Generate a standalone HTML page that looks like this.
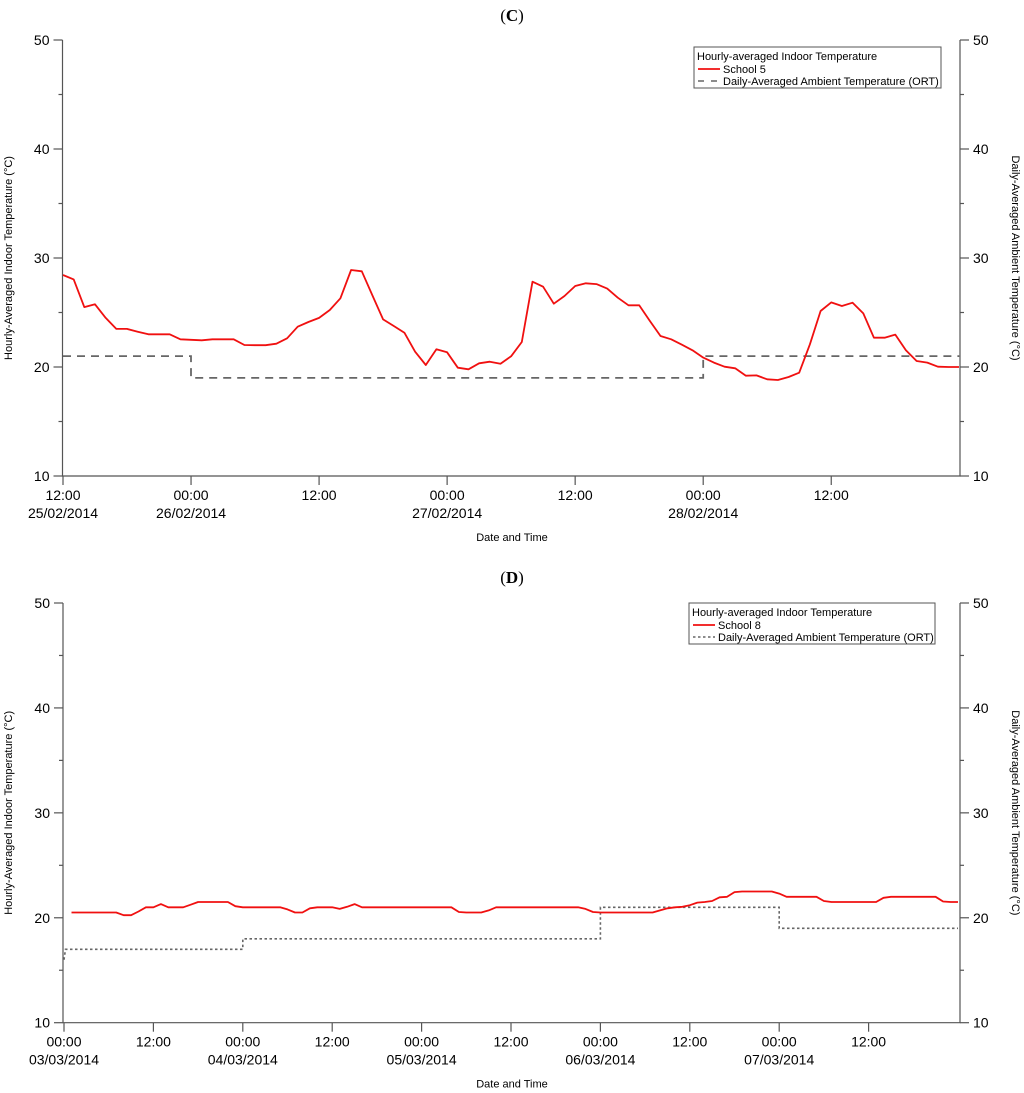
<!DOCTYPE html>
<html><head><meta charset="utf-8">
<style>
html,body{margin:0;padding:0;background:#fff;}
svg{display:block;font-family:"Liberation Sans",sans-serif;}
</style></head>
<body>
<svg id="fig" width="1024" height="1093" viewBox="0 0 1024 1093" xmlns="http://www.w3.org/2000/svg"></svg>
<script>
// ---- Chart C data (hourly from 12:00 25/02/2014) ----
const cIndoor = [28.44,28.04,25.5,25.75,24.5,23.5,23.5,23.24,23.0,23.0,23.0,22.54,22.5,22.45,22.54,22.54,22.54,22.02,22.0,22.0,22.14,22.63,23.7,24.13,24.5,25.23,26.3,28.9,28.78,26.57,24.37,23.76,23.15,21.4,20.18,21.62,21.35,19.94,19.79,20.34,20.49,20.3,20.98,
22.29,27.83,27.37,25.81,26.51,27.43,27.68,27.61,27.19,26.36,25.66,25.66,24.22,22.84,22.54,22.05,21.53,20.86,20.4,20.03,19.88,19.2,19.23,18.87,18.81,19.08,19.48,22.08,25.14,25.93,25.6,25.9,24.92,22.69,22.69,22.97,21.53,20.55,20.4,20.03,20.0,20.0,20.0];
const cAmbHours = [0,12,12,60,60,84];
const cAmbVals  = [21,21,19,19,21,21];
const cTickHours = [0,12,24,36,48,60,72];
const cTickTimes = ["12:00","00:00","12:00","00:00","12:00","00:00","12:00"];
const cTickDates = ["25/02/2014","26/02/2014","","27/02/2014","","28/02/2014",""];
// ---- Chart D data (hourly from 01:00 03/03/2014) ----
const dIndoor = [20.5,20.5,20.5,20.5,20.5,20.5,20.5,20.25,20.25,20.6,21.0,21.0,21.3,21.0,21.0,21.0,21.25,21.5,21.5,21.5,21.5,21.5,21.1,21.0,21.0,21.0,21.0,21.0,21.0,20.8,20.5,20.5,20.9,21.0,21.0,21.0,20.85,21.05,21.3,21.0,
21.0,21.0,21.0,21.0,21.0,21.0,21.0,21.0,21.0,21.0,21.0,21.0,20.55,20.5,20.5,20.5,20.7,21.0,21.0,21.0,21.0,21.0,21.0,21.0,21.0,21.0,21.0,21.0,21.0,20.85,20.55,20.5,20.5,20.5,20.5,20.5,20.5,20.5,20.5,20.7,
20.9,21.0,21.05,21.2,21.45,21.5,21.6,21.95,22.0,22.45,22.5,22.5,22.5,22.5,22.5,22.3,22.0,22.0,22.0,22.0,22.0,21.6,21.5,21.5,21.5,21.5,21.5,21.5,21.5,21.9,22.0,22.0,22.0,22.0,22.0,22.0,22.0,21.55,21.5,21.5];
const dAmbHours = [0,0.2,24,24,72,72,96,96,120];
const dAmbVals  = [16,17,17,18,18,21,21,19,19];
const dTickHours = [0,12,24,36,48,60,72,84,96,108];
const dTickTimes = ["00:00","12:00","00:00","12:00","00:00","12:00","00:00","12:00","00:00","12:00"];
const dTickDates = ["03/03/2014","","04/03/2014","","05/03/2014","","06/03/2014","","07/03/2014",""];
const yTicks = [10,20,30,40,50];

const NS="http://www.w3.org/2000/svg";
const svg=document.getElementById('fig');
function mk(tag,attrs,parent,text){const e=document.createElementNS(NS,tag);for(const k in attrs)e.setAttribute(k,attrs[k]);if(text!==undefined)e.textContent=text;(parent||svg).appendChild(e);return e;}

function drawChart(p){
  const g=mk('g',{});
  
  
  const x=h=>p.x0+(h-p.h0)*p.pxh;
  const y=v=>p.yTop+(50-v)*(p.yBot-p.yTop)/40;
  const t=mk('text',{x:512,y:p.titleY,'text-anchor':'middle','font-family':'Liberation Serif,serif','font-size':17},g);
  
  mk('tspan',{},t,'(');mk('tspan',{'font-weight':'bold'},t,p.letter);mk('tspan',{},t,')');
  const ax=mk('path',{d:`M${p.L},${p.yTop} V${p.yBot} H${p.R} V${p.yTop}`,fill:'none',stroke:'#555','stroke-width':1.2},g);
  
  for(let v=10;v<=50;v+=5){
    const major=v%10===0;const len=major?9:4;
    mk('line',{x1:p.L-len,x2:p.L,y1:y(v),y2:y(v),stroke:'#555','stroke-width':1.2},g);
    mk('line',{x1:p.R,x2:p.R+len,y1:y(v),y2:y(v),stroke:'#555','stroke-width':1.2},g);
  }
  yTicks.forEach(v=>{
    const a=mk('text',{x:p.L-13,y:y(v)+5,'text-anchor':'end','font-size':14},g,String(v));
    
    const b=mk('text',{x:p.R+13,y:y(v)+5,'text-anchor':'start','font-size':14},g,String(v));
    
  });
  p.tickHours.forEach((h,i)=>{
    mk('line',{x1:x(h),x2:x(h),y1:p.yBot,y2:p.yBot+9,stroke:'#555','stroke-width':1.2},g);
    const a=mk('text',{x:x(h),y:p.yBot+24,'text-anchor':'middle','font-size':14},g,p.tickTimes[i]);
    
    if(p.tickDates[i]){const b=mk('text',{x:x(h),y:p.yBot+42,'text-anchor':'middle','font-size':14},g,p.tickDates[i]);
      }
  });
  const xt=mk('text',{x:512,y:p.yBot+65,'text-anchor':'middle','font-size':11},g,'Date and Time');
  
  const cy=(p.yTop+p.yBot)/2;
  const ly=mk('text',{x:0,y:0,'text-anchor':'middle','font-size':11,transform:`translate(12,${cy}) rotate(-90)`},g,'Hourly-Averaged Indoor Temperature (°C)');
  
  const ry=mk('text',{x:0,y:0,'text-anchor':'middle','font-size':11,transform:`translate(1012,${cy}) rotate(90)`},g,'Daily-Averaged Ambient Temperature (°C)');
  
  let d='';p.ambH.forEach((h,i)=>{d+=(i?'L':'M')+Math.min(x(h),p.R).toFixed(1)+','+y(p.ambV[i]).toFixed(1)+' ';});
  const am=mk('path',{d:d,fill:'none',stroke:'#666','stroke-width':p.dotted?1.6:1.8,'stroke-dasharray':p.dotted?'2.5,2.5':'8,6'},g);
  
  d='';p.indoor.forEach((v,i)=>{d+=(i?'L':'M')+Math.min(x(p.startH+i),p.R-1).toFixed(1)+','+y(v).toFixed(1)+' ';});
  const il=mk('path',{d:d,fill:'none',stroke:'#f01010','stroke-width':1.8,'stroke-linejoin':'round'},g);
  
  const lg=mk('g',{},g);
  
  mk('rect',{x:p.lgX,y:p.lgY,width:p.lgW,height:41,fill:'#fff',stroke:'#555','stroke-width':1},lg);
  mk('text',{x:p.lgX+3,y:p.lgY+13,'font-size':11},lg,'Hourly-averaged Indoor Temperature');
  mk('line',{x1:p.lgX+4,x2:p.lgX+26,y1:p.lgY+22,y2:p.lgY+22,stroke:'#f01010','stroke-width':1.8},lg);
  mk('text',{x:p.lgX+29,y:p.lgY+26,'font-size':11},lg,p.school);
  mk('line',{x1:p.lgX+4,x2:p.lgX+26,y1:p.lgY+34,y2:p.lgY+34,stroke:'#666','stroke-width':1.6,'stroke-dasharray':p.dotted?'2.5,2.5':'6,7'},lg);
  mk('text',{x:p.lgX+29,y:p.lgY+38,'font-size':11},lg,'Daily-Averaged Ambient Temperature (ORT)');
}
drawChart({name:'chart-c-school-5',letter:'C',titleY:21,L:62.5,R:960,yTop:40,yBot:476,x0:63,h0:0,pxh:10.67,
  startH:0,indoor:cIndoor,ambH:cAmbHours,ambV:cAmbVals,dotted:false,tickHours:cTickHours,tickTimes:cTickTimes,tickDates:cTickDates,
  lgX:694,lgY:47,lgW:247,school:'School 5'});
drawChart({name:'chart-d-school-8',letter:'D',titleY:583,L:63,R:960,yTop:603,yBot:1022.7,x0:64,h0:0,pxh:7.45,
  startH:1,indoor:dIndoor,ambH:dAmbHours,ambV:dAmbVals,dotted:true,tickHours:dTickHours,tickTimes:dTickTimes,tickDates:dTickDates,
  lgX:689,lgY:603,lgW:246,school:'School 8'});
</script>
</body></html>
